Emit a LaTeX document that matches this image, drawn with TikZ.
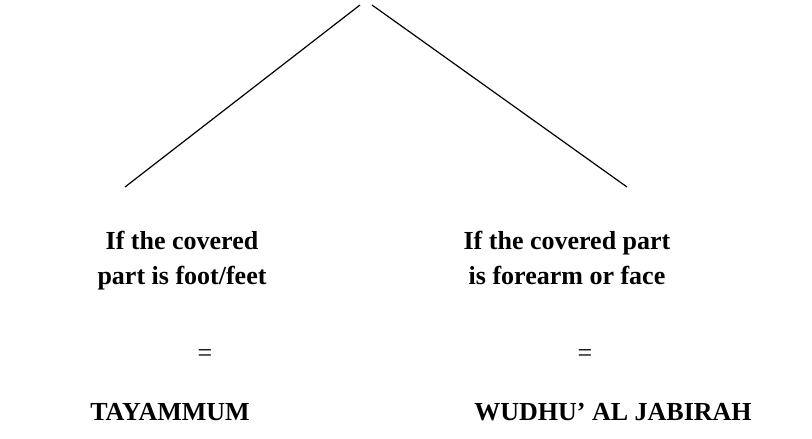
\documentclass[tikz,border=0pt]{standalone}
\usepackage{fontspec}
\setmainfont{Liberation Serif}
\begin{document}
\begin{tikzpicture}[x=1pt,y=-1pt,
  txt/.style={font=\fontsize{26}{35}\selectfont\bfseries, align=center, inner sep=0pt},
  eq/.style={font=\fontsize{26}{30}\selectfont, inner sep=0pt},
  ln/.style={draw=black, line width=1.2pt}]
\useasboundingbox (0,0) rectangle (812,439);
\fill[white] (0,0) rectangle (812,439);
\coordinate (topL) at (360,5);
\coordinate (topR) at (372,5);
\coordinate (endL) at (125,187);
\coordinate (endR) at (627,187);
\draw[ln] (topL) -- (endL);
\draw[ln] (topR) -- (endR);
\node[txt, anchor=base] (l1) at (182,284) {If the covered\\part is foot/feet};
\node[txt, anchor=base] (r1) at (567,284) {If the covered part\\is forearm or face};
\node[eq] (eqL) at (205,356) {=};
\node[eq] (eqR) at (585,356) {=};
\node[txt, anchor=base] (tay) at (170,420) {TAYAMMUM};
\node[txt, anchor=base] (wud) at (613,420) {WUDHU’ AL JABIRAH};
\end{tikzpicture}
\end{document}
